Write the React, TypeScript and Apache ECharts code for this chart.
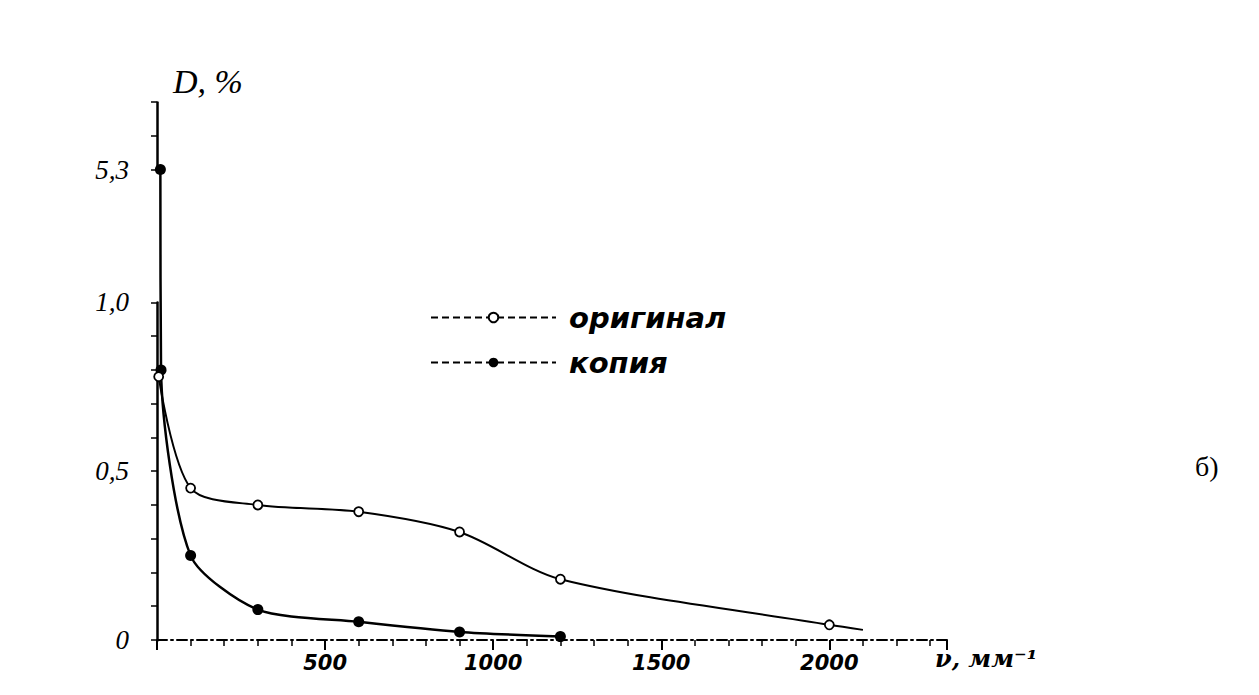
import React, { useEffect, useRef } from "react";
import * as echarts from "echarts";

// Data (ν in mm^-1, D in %)
const seriesNames = ["оригинал", "копия"];
const originalData: [number, number][] = [
  [5, 0.78],
  [100, 0.45],
  [300, 0.4],
  [600, 0.38],
  [900, 0.32],
  [1200, 0.18],
  [2000, 0.045],
];
const originalTail: [number, number][] = [[2100, 0.03]];
const copyData: [number, number][] = [
  [10, 5.3],
  [12, 0.8],
  [100, 0.25],
  [300, 0.09],
  [600, 0.054],
  [900, 0.024],
  [1200, 0.01],
];
const yTickLabels: [number, string][] = [
  [0, "0"],
  [0.5, "0,5"],
  [1.0, "1,0"],
  [5.3, "5,3"],
];
const xTickLabels = [500, 1000, 1500, 2000];

export default function App() {
  const ref = useRef<HTMLDivElement>(null);
  useEffect(() => {
    if (!ref.current) return;
    const chart = echarts.init(ref.current, undefined, { renderer: "svg" });
    const openSymbol = {
      symbol: "circle",
      symbolSize: 9,
      itemStyle: { color: "#fff", borderColor: "#000", borderWidth: 1.8 },
    };
    chart.setOption({
      animation: false,
      backgroundColor: "#fff",
      grid: { left: 157, right: 312, top: 102, bottom: 55, containLabel: false },
      legend: {
        left: 425,
        top: 298,
        orient: "vertical",
        itemWidth: 125,
        itemHeight: 12,
        itemGap: 16,
        lineStyle: { type: [7, 4] },
        textStyle: {
          color: "#000",
          fontSize: 29,
          fontStyle: "italic",
          fontWeight: "bold",
          fontFamily: "DejaVu Sans",
          padding: [0, 0, 0, 8],
        },
        data: seriesNames,
      },
      xAxis: {
        type: "value",
        min: 0,
        max: 2350,
        interval: 500,
        name: "ν, мм⁻¹",
        nameLocation: "end",
        nameGap: -12,
        nameTextStyle: {
          color: "#000",
          fontSize: 24,
          fontStyle: "italic",
          fontWeight: "bold",
          fontFamily: "DejaVu Serif",
          align: "left",
          verticalAlign: "top",
          padding: [6, 0, 0, 0],
        },
        axisLine: { show: true, lineStyle: { color: "#000", width: 2, type: [10, 4, 2, 4] } },
        axisTick: { show: true, length: 10, lineStyle: { color: "#000", width: 2 } },
        minorTick: { show: true, splitNumber: 5, length: 6, lineStyle: { color: "#000", width: 1.5 } },
        splitLine: { show: false },
        axisLabel: {
          color: "#000",
          fontSize: 21,
          fontStyle: "italic",
          fontWeight: "bold",
          fontFamily: "DejaVu Sans",
          margin: 12,
          formatter: (v: number) => (xTickLabels.includes(v) ? String(v) : ""),
        },
      },
      yAxis: {
        type: "value",
        min: 0,
        max: 5.5,
        interval: 0.1,
        breaks: [{ start: 1.0, end: 5.3, gap: "24.7%" }],
        breakArea: { show: false },
        name: "D, %",
        nameLocation: "end",
        nameGap: 4,
        nameTextStyle: {
          color: "#000",
          fontSize: 34,
          fontStyle: "italic",
          fontFamily: "Liberation Serif",
          align: "left",
          verticalAlign: "bottom",
          padding: [0, 0, 0, 16],
        },
        axisLine: { show: true, lineStyle: { color: "#000", width: 2.5 } },
        axisTick: { show: true, length: 6, lineStyle: { color: "#000", width: 1.5 } },
        splitLine: { show: false },
        axisLabel: {
          color: "#000",
          fontSize: 27,
          fontStyle: "italic",
          fontFamily: "Liberation Serif",
          margin: 28,
          formatter: (v: number) => {
            const hit = yTickLabels.find(([t]) => Math.abs(t - v) < 1e-6);
            return hit ? hit[1] : "";
          },
        },
      },
      series: [
        {
          name: seriesNames[0],
          type: "line",
          smooth: 0.3,
          data: [...originalData, ...originalTail.map((p) => ({ value: p, symbolSize: 0 }))],
          lineStyle: { color: "#000", width: 2 },
          ...openSymbol,
          z: 3,
        },
        {
          name: seriesNames[1],
          type: "line",
          smooth: 0.25,
          data: copyData,
          symbol: "circle",
          symbolSize: 11,
          itemStyle: { color: "#000" },
          lineStyle: { color: "#000", width: 2.5 },
          z: 2,
        },
      ],
      graphic: [
        {
          type: "text",
          left: 1195,
          top: 452,
          style: { text: "б)", fontSize: 28, fontFamily: "Liberation Serif", fill: "#000" },
        },
      ],
    });
    return () => chart.dispose();
  }, []);
  return (
    <div
      ref={ref}
      style={{ position: "fixed", left: 0, top: 0, width: 1259, height: 695, background: "#fff" }}
    />
  );
}
